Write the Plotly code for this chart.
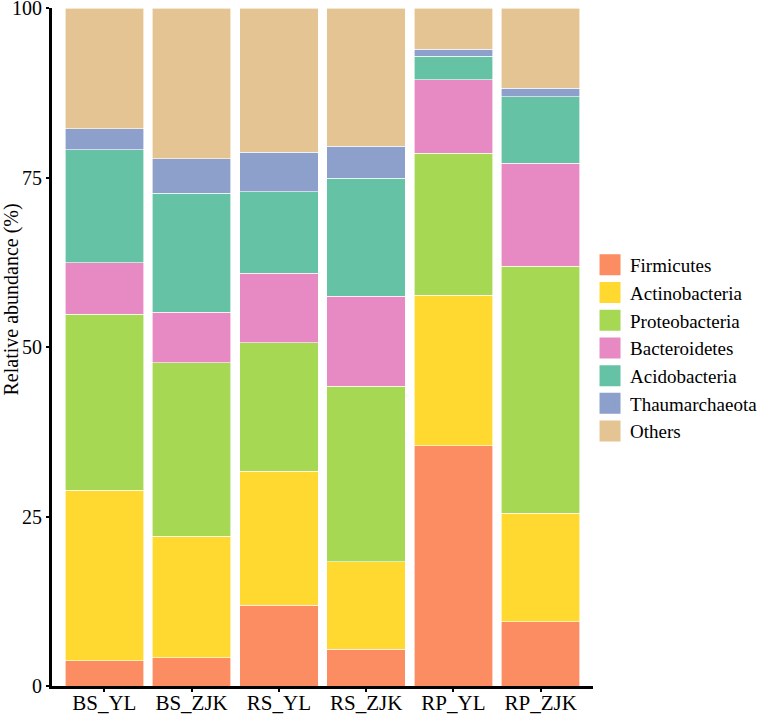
import plotly.graph_objects as go

samples = ["BS_YL", "BS_ZJK", "RS_YL", "RS_ZJK", "RP_YL", "RP_ZJK"]
phyla = ["Firmicutes", "Actinobacteria", "Proteobacteria", "Bacteroidetes",
         "Acidobacteria", "Thaumarchaeota", "Others"]

firmicutes = [3.7, 4.2, 11.9, 5.4, 35.4, 9.5]
actinobacteria = [25.2, 17.9, 19.8, 12.9, 22.2, 16.0]
proteobacteria = [25.9, 25.6, 18.9, 25.9, 21.0, 36.4]
bacteroidetes = [7.6, 7.4, 10.3, 13.3, 10.8, 15.2]
acidobacteria = [16.7, 17.6, 12.0, 17.4, 3.5, 9.8]
thaumarchaeota = [3.1, 5.1, 5.8, 4.7, 1.0, 1.3]
others = [17.8, 22.2, 21.3, 20.4, 6.1, 11.8]

values = [firmicutes, actinobacteria, proteobacteria, bacteroidetes,
          acidobacteria, thaumarchaeota, others]
colors = ["#FC8D62", "#FFD92F", "#A6D854", "#E78AC3", "#66C2A5", "#8DA0CB", "#E5C494"]

y_ticks = [0, 25, 50, 75, 100]

FONT = "Liberation Serif"

fig = go.Figure()
for name, vals, col in zip(phyla, values, colors):
    fig.add_trace(go.Bar(
        x=samples, y=vals, name=name, legendgroup=name, showlegend=False,
        marker=dict(color=col, line=dict(color="white", width=0.6)),
        width=0.9,
    ))
for name, col in zip(phyla, colors):
    fig.add_trace(go.Scatter(
        x=[None], y=[None], mode="markers", name=name, legendgroup=name,
        marker=dict(symbol="square", size=18, color=col,
                    line=dict(color=col, width=5)),
        showlegend=True,
    ))

fig.update_layout(
    width=768, height=715,
    barmode="stack",
    plot_bgcolor="white", paper_bgcolor="white",
    margin=dict(l=52, r=175, t=8, b=29, autoexpand=False),
    font=dict(family=FONT, size=20, color="black"),
    legend=dict(
        x=0.9945, xanchor="left", y=0.4985, yanchor="middle",
        traceorder="grouped", tracegroupgap=0,
        font=dict(family=FONT, size=19, color="black"),
        itemsizing="trace",
        bgcolor="rgba(0,0,0,0)",
    ),
    xaxis=dict(
        type="category", categoryorder="array", categoryarray=samples,
        range=[-0.6, 5.6],
        showline=True, linecolor="black", linewidth=3,
        ticks="outside", ticklen=3, tickwidth=1.5, tickcolor="black",
        tickfont=dict(family=FONT, size=21, color="black"),
        ticklabelstandoff=-7,
        showgrid=False, zeroline=False, automargin=False,
    ),
    yaxis=dict(
        range=[0, 100], tickvals=y_ticks, ticktext=[str(v) for v in y_ticks],
        showline=True, linecolor="black", linewidth=3,
        ticks="outside", ticklen=3, tickwidth=1.5, tickcolor="black",
        tickfont=dict(family=FONT, size=20, color="black"),
        ticklabeloverflow="allow",
        showgrid=False, zeroline=False, automargin=False,
    ),
    annotations=[dict(
        text="Relative abundance (%)", xref="paper", yref="paper",
        x=-0.074, y=0.570, xanchor="center", yanchor="middle",
        textangle=-90, showarrow=False,
        font=dict(family=FONT, size=20, color="black"),
    )],
)

fig.write_html("out.html", config={"displayModeBar": False},
               post_script="document.body.style.margin='0';")
